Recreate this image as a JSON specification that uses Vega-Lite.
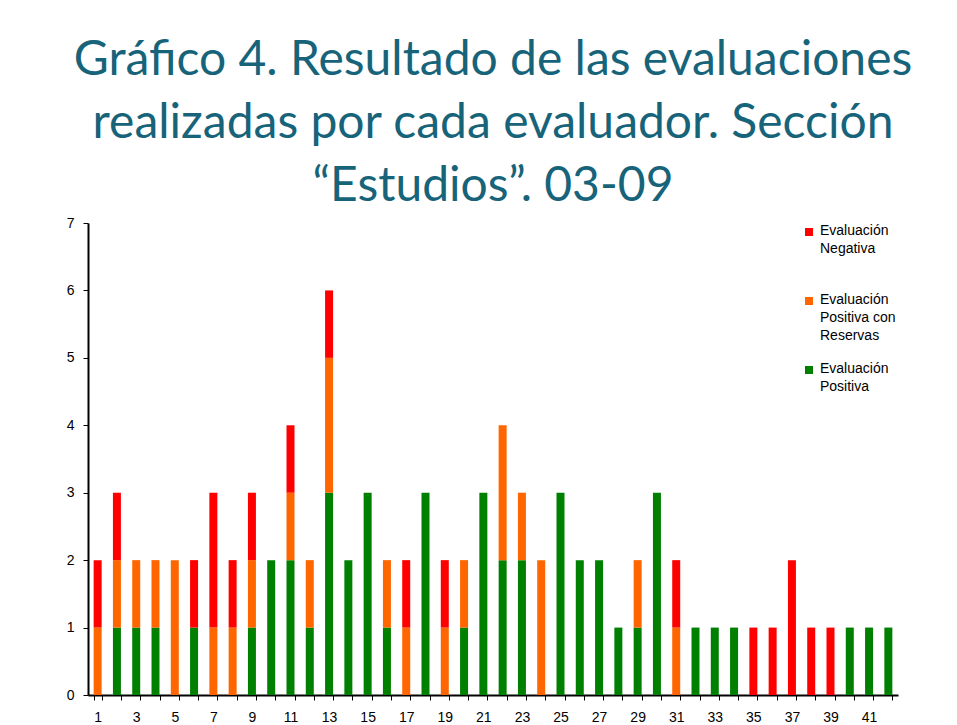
{
  "$schema": "https://vega.github.io/schema/vega-lite/v6.json",
  "autosize": "none",
  "width": 810,
  "height": 472,
  "padding": {"left": 88, "top": 223, "right": 59, "bottom": 30},
  "background": "#FFFFFF",
  "title": {
    "text": ["Gráfico 4. Resultado de las evaluaciones", "realizadas por cada evaluador. Sección", "“Estudios”. 03-09"],
    "font": "Lato",
    "fontSize": 48,
    "fontWeight": "normal",
    "color": "#17647A",
    "anchor": "middle",
    "frame": "group",
    "baseline": "bottom",
    "lineHeight": 63,
    "offset": -44
  },
  "data": {
    "values": [
      {"ev": 1, "tipo": "Evaluación Positiva con Reservas", "n": 1},
      {"ev": 1, "tipo": "Evaluación Negativa", "n": 1},
      {"ev": 2, "tipo": "Evaluación Positiva", "n": 1},
      {"ev": 2, "tipo": "Evaluación Positiva con Reservas", "n": 1},
      {"ev": 2, "tipo": "Evaluación Negativa", "n": 1},
      {"ev": 3, "tipo": "Evaluación Positiva", "n": 1},
      {"ev": 3, "tipo": "Evaluación Positiva con Reservas", "n": 1},
      {"ev": 4, "tipo": "Evaluación Positiva", "n": 1},
      {"ev": 4, "tipo": "Evaluación Positiva con Reservas", "n": 1},
      {"ev": 5, "tipo": "Evaluación Positiva con Reservas", "n": 2},
      {"ev": 6, "tipo": "Evaluación Positiva", "n": 1},
      {"ev": 6, "tipo": "Evaluación Negativa", "n": 1},
      {"ev": 7, "tipo": "Evaluación Positiva con Reservas", "n": 1},
      {"ev": 7, "tipo": "Evaluación Negativa", "n": 2},
      {"ev": 8, "tipo": "Evaluación Positiva con Reservas", "n": 1},
      {"ev": 8, "tipo": "Evaluación Negativa", "n": 1},
      {"ev": 9, "tipo": "Evaluación Positiva", "n": 1},
      {"ev": 9, "tipo": "Evaluación Positiva con Reservas", "n": 1},
      {"ev": 9, "tipo": "Evaluación Negativa", "n": 1},
      {"ev": 10, "tipo": "Evaluación Positiva", "n": 2},
      {"ev": 11, "tipo": "Evaluación Positiva", "n": 2},
      {"ev": 11, "tipo": "Evaluación Positiva con Reservas", "n": 1},
      {"ev": 11, "tipo": "Evaluación Negativa", "n": 1},
      {"ev": 12, "tipo": "Evaluación Positiva", "n": 1},
      {"ev": 12, "tipo": "Evaluación Positiva con Reservas", "n": 1},
      {"ev": 13, "tipo": "Evaluación Positiva", "n": 3},
      {"ev": 13, "tipo": "Evaluación Positiva con Reservas", "n": 2},
      {"ev": 13, "tipo": "Evaluación Negativa", "n": 1},
      {"ev": 14, "tipo": "Evaluación Positiva", "n": 2},
      {"ev": 15, "tipo": "Evaluación Positiva", "n": 3},
      {"ev": 16, "tipo": "Evaluación Positiva", "n": 1},
      {"ev": 16, "tipo": "Evaluación Positiva con Reservas", "n": 1},
      {"ev": 17, "tipo": "Evaluación Positiva con Reservas", "n": 1},
      {"ev": 17, "tipo": "Evaluación Negativa", "n": 1},
      {"ev": 18, "tipo": "Evaluación Positiva", "n": 3},
      {"ev": 19, "tipo": "Evaluación Positiva con Reservas", "n": 1},
      {"ev": 19, "tipo": "Evaluación Negativa", "n": 1},
      {"ev": 20, "tipo": "Evaluación Positiva", "n": 1},
      {"ev": 20, "tipo": "Evaluación Positiva con Reservas", "n": 1},
      {"ev": 21, "tipo": "Evaluación Positiva", "n": 3},
      {"ev": 22, "tipo": "Evaluación Positiva", "n": 2},
      {"ev": 22, "tipo": "Evaluación Positiva con Reservas", "n": 2},
      {"ev": 23, "tipo": "Evaluación Positiva", "n": 2},
      {"ev": 23, "tipo": "Evaluación Positiva con Reservas", "n": 1},
      {"ev": 24, "tipo": "Evaluación Positiva con Reservas", "n": 2},
      {"ev": 25, "tipo": "Evaluación Positiva", "n": 3},
      {"ev": 26, "tipo": "Evaluación Positiva", "n": 2},
      {"ev": 27, "tipo": "Evaluación Positiva", "n": 2},
      {"ev": 28, "tipo": "Evaluación Positiva", "n": 1},
      {"ev": 29, "tipo": "Evaluación Positiva", "n": 1},
      {"ev": 29, "tipo": "Evaluación Positiva con Reservas", "n": 1},
      {"ev": 30, "tipo": "Evaluación Positiva", "n": 3},
      {"ev": 31, "tipo": "Evaluación Positiva con Reservas", "n": 1},
      {"ev": 31, "tipo": "Evaluación Negativa", "n": 1},
      {"ev": 32, "tipo": "Evaluación Positiva", "n": 1},
      {"ev": 33, "tipo": "Evaluación Positiva", "n": 1},
      {"ev": 34, "tipo": "Evaluación Positiva", "n": 1},
      {"ev": 35, "tipo": "Evaluación Negativa", "n": 1},
      {"ev": 36, "tipo": "Evaluación Negativa", "n": 1},
      {"ev": 37, "tipo": "Evaluación Negativa", "n": 2},
      {"ev": 38, "tipo": "Evaluación Negativa", "n": 1},
      {"ev": 39, "tipo": "Evaluación Negativa", "n": 1},
      {"ev": 40, "tipo": "Evaluación Positiva", "n": 1},
      {"ev": 41, "tipo": "Evaluación Positiva", "n": 1},
      {"ev": 42, "tipo": "Evaluación Positiva", "n": 1}
    ]
  },
  "transform": [
    {"calculate": "indexof(['Evaluación Positiva', 'Evaluación Positiva con Reservas', 'Evaluación Negativa'], datum.tipo)", "as": "orden"}
  ],
  "mark": {"type": "bar", "size": 8},
  "encoding": {
    "x": {
      "field": "ev",
      "type": "ordinal",
      "scale": {"paddingInner": 0.58, "paddingOuter": 0.29},
      "axis": {
        "title": null,
        "labelAngle": 0,
        "labelExpr": "datum.value % 2 == 1 ? datum.label : ''",
        "tickBand": "extent",
        "domainColor": "#000000",
        "domainWidth": 2,
        "tickColor": "#000000",
        "tickSize": 5,
        "tickWidth": 1,
        "labelColor": "#000000",
        "labelFont": "Liberation Sans",
        "labelFontSize": 14,
        "labelPadding": 10
      }
    },
    "y": {
      "field": "n",
      "type": "quantitative",
      "aggregate": "sum",
      "stack": "zero",
      "scale": {"domain": [0, 7], "nice": false},
      "axis": {
        "title": null,
        "values": [0, 1, 2, 3, 4, 5, 6, 7],
        "grid": false,
        "domainColor": "#000000",
        "domainWidth": 2,
        "tickColor": "#000000",
        "tickSize": 5,
        "tickWidth": 1,
        "labelColor": "#000000",
        "labelFont": "Liberation Sans",
        "labelFontSize": 14,
        "labelPadding": 9
      }
    },
    "color": {
      "field": "tipo",
      "type": "nominal",
      "scale": {
        "domain": ["Evaluación Negativa", "Evaluación Positiva con Reservas", "Evaluación Positiva"],
        "range": ["#FF0000", "#FF6600", "#008000"]
      },
      "legend": {
        "title": null,
        "orient": "none",
        "legendX": 704,
        "legendY": -8,
        "fillColor": "#FFFFFF",
        "padding": 10,
        "symbolType": "square",
        "symbolSize": 64,
        "symbolStrokeWidth": 0,
        "labelFont": "Liberation Sans",
        "labelFontSize": 14,
        "labelColor": "#000000",
        "labelLimit": 200,
        "labelBaseline": "top",
        "labelExpr": "datum.label == 'Evaluación Negativa' ? ['Evaluación', 'Negativa', ' '] : datum.label == 'Evaluación Positiva con Reservas' ? ['Evaluación', 'Positiva con', 'Reservas'] : ['Evaluación', 'Positiva', ' ']",
        "rowPadding": 19,
        "encode": {"labels": {"update": {"dy": {"value": -8}, "lineHeight": {"value": 18}}}}
      }
    },
    "order": {"field": "orden", "type": "quantitative"}
  },
  "config": {"view": {"stroke": null}}
}
